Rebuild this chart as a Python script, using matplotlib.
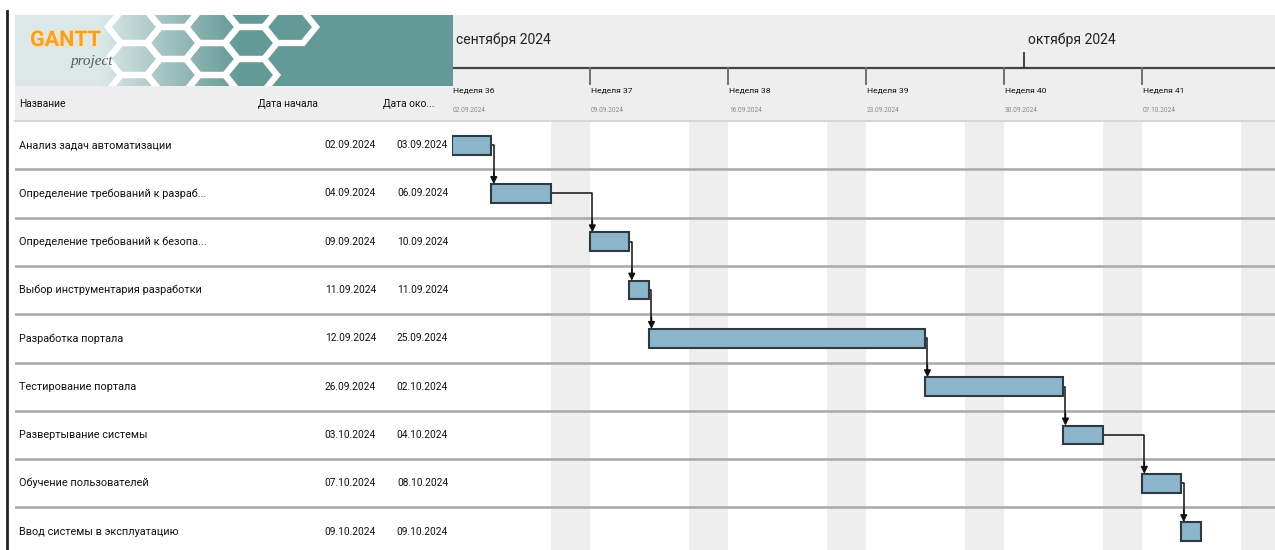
# %% LIBRARIES
import numpy as np
import matplotlib.pyplot as plt
import matplotlib.dates as mdates
import matplotlib.patheffects as pe
from matplotlib.patches import Polygon
from matplotlib.lines import Line2D
from datetime import datetime

plt.rcParams['font.family'] = ['Roboto', 'DejaVu Sans']

# %% DATA
task_names = [
    'Анализ задач автоматизации',
    'Определение требований к разраб...',
    'Определение требований к безопа...',
    'Выбор инструментария разработки',
    'Разработка портала',
    'Тестирование портала',
    'Развертывание системы',
    'Обучение пользователей',
    'Ввод системы в эксплуатацию',
]
start_dates = ['02.09.2024', '04.09.2024', '09.09.2024', '11.09.2024', '12.09.2024',
               '26.09.2024', '03.10.2024', '07.10.2024', '09.10.2024']
end_dates = ['03.09.2024', '06.09.2024', '10.09.2024', '11.09.2024', '25.09.2024',
             '02.10.2024', '04.10.2024', '08.10.2024', '09.10.2024']
column_headers = ['Название', 'Дата начала', 'Дата око...']
week_labels = ['Неделя 36', 'Неделя 37', 'Неделя 38', 'Неделя 39', 'Неделя 40', 'Неделя 41']
week_starts = ['02.09.2024', '09.09.2024', '16.09.2024', '23.09.2024', '30.09.2024', '07.10.2024']
month_labels = ['сентября 2024', 'октября 2024']
month_starts = ['01.09.2024', '01.10.2024']
view_start = '02.09.2024'
view_days = 41.75

# %% HELPERS
W, H = 1275, 550
def fbox(x0, y0, x1, y1):
    return [x0 / W, 1 - y1 / H, (x1 - x0) / W, (y1 - y0) / H]

def to_num(s):
    return mdates.date2num(datetime.strptime(s, '%d.%m.%Y'))

starts = np.array([to_num(s) for s in start_dates])
ends = np.array([to_num(s) for s in end_dates]) + 1  # inclusive end day
v0 = to_num(view_start)
v1 = v0 + view_days

row_h = 48.3
n_vis = (H - 121) / row_h
GRAY = '#eeeeee'
LINE = '#a8a8a8'

fig = plt.figure(figsize=(W / 100, H / 100), dpi=100)
fig.patch.set_facecolor('white')

# %% GANTT BODY
ax = fig.add_axes(fbox(452, 121, W, H))
ax.set_xlim(v0, v1)
ax.set_ylim(n_vis, 0)
ax.axis('off')
d = v0 - 1
while d < v1 + 1:
    if mdates.num2date(d).weekday() >= 5:
        ax.axvspan(d, d + 1, color=GRAY, lw=0, zorder=0)
    d += 1
for i in range(1, len(task_names)):
    ax.axhline(i, color=LINE, lw=1.8, zorder=1)

bar_h = 0.39
ax.barh(np.arange(len(task_names)) + 0.5, ends - starts, left=starts, height=bar_h,
        color='#8cb5cc', edgecolor='#2e3a40', lw=1.5, zorder=3)

# dependencies
jog = 0.12
for i in range(len(task_names) - 1):
    y0 = i + 0.5
    xd = starts[i + 1] + jog
    top = i + 1.5 - bar_h / 2
    ax.plot([ends[i], xd, xd], [y0, y0, top - 0.15], color='#111', lw=1.1, zorder=2)
    ax.annotate('', xy=(xd, top), xytext=(xd, top - 0.25),
                arrowprops=dict(arrowstyle='-|>', color='#111', lw=1.1, mutation_scale=10,
                                shrinkA=0, shrinkB=0), zorder=2)

# %% TABLE
axt = fig.add_axes(fbox(15, 121, 452, H))
axt.set_xlim(15, 452)
axt.set_ylim(n_vis, 0)
axt.axis('off')
for i in range(1, len(task_names)):
    axt.axhline(i, color=LINE, lw=1.8)
for i, name in enumerate(task_names):
    axt.text(19, i + 0.5, name, fontsize=7.8, va='center', ha='left', color='#111')
    axt.text(376, i + 0.5, start_dates[i], fontsize=7.3, va='center', ha='right', color='#111')
    axt.text(448, i + 0.5, end_dates[i], fontsize=7.3, va='center', ha='right', color='#111')

# column header strip
axc = fig.add_axes(fbox(15, 86, 452, 121))
axc.set_xlim(15, 452)
axc.set_ylim(121, 86)
axc.set_facecolor(GRAY)
for s in axc.spines.values():
    s.set_visible(False)
axc.set_xticks([])
axc.set_yticks([])
for x, lab in zip([19, 258, 383], column_headers):
    axc.text(x, 104, lab, fontsize=7.4, va='center', ha='left', color='#111')

# %% TIMELINE HEADER
axh = fig.add_axes(fbox(452, 15, W, 121))
axh.set_xlim(v0, v1)
axh.set_ylim(121, 15)
axh.set_facecolor(GRAY)
for s in axh.spines.values():
    s.set_visible(False)
axh.set_xticks([])
axh.set_yticks([])
axh.axhline(68, color='#444', lw=1.6)
for lab, ms in zip(month_labels, month_starts):
    x = max(to_num(ms), v0)
    axh.plot([x, x], [53, 68], color='#333', lw=1.3)
    axh.text(x + 0.2, 40, lab, fontsize=10, va='center', ha='left', color='#222')
for lab, ws in zip(week_labels, week_starts):
    x = to_num(ws)
    axh.plot([x, x], [68, 84], color='#666', lw=1.3)
    axh.text(x + 0.05, 91, lab, fontsize=6.1, va='center', ha='left', color='#111')
    axh.text(x + 0.05, 110, ws, fontsize=4.7, va='center', ha='left', color='#8a8a8a')

# header bottom line
fig.add_artist(Line2D([15 / W, 1], [1 - 121 / H, 1 - 121 / H], color='#d6d6d6', lw=1.5))

# %% LOGO BANNER
axl = fig.add_axes(fbox(15, 15, 452, 86))
axl.set_xlim(15, 452)
axl.set_ylim(86, 15)
axl.axis('off')
light = np.array([0.86, 0.91, 0.91])
teal = np.array([0.39, 0.60, 0.59])
t = np.clip((np.linspace(15, 452, 400) - 100) / 140, 0, 1)[None, :, None]
grad = light * (1 - t) + teal * t
axl.imshow(grad, extent=(15, 452, 86, 15), aspect='auto', zorder=0)

rx, ry = 26, 16
for k in range(-3, 3):
    cx = 212 + 39 * k
    off = 0 if k % 2 == 0 else 16
    for j in range(-1, 4):
        cy = 27 + off + 32 * j
        if cy - ry > 86 or cy + ry < 15:
            continue
        if not (125 <= cx and cx + 0.6 * (cy - 27) <= 290):
            continue
        pts = [(cx - rx, cy), (cx - rx / 2, cy - ry), (cx + rx / 2, cy - ry),
               (cx + rx, cy), (cx + rx / 2, cy + ry), (cx - rx / 2, cy + ry)]
        axl.add_patch(Polygon(pts, closed=True, fill=False, ec='white', lw=4.5,
                              joinstyle='miter', zorder=1, clip_on=True))

axl.text(30, 40, 'GANTT', fontsize=15.5, fontweight='bold', color='#f4a128', va='center', ha='left',
         zorder=3, path_effects=[pe.withStroke(linewidth=2, foreground='#fbe2b8')])
axl.text(71, 61, 'project', fontsize=11, style='italic', color='#5a5a5a', va='center', ha='left',
         family=['Liberation Serif', 'DejaVu Serif'], zorder=3)

# left border line
fig.add_artist(Line2D([7 / W, 7 / W], [0, 1 - 11 / H], color='#222', lw=2))

fig.savefig('out.png', dpi=100)
